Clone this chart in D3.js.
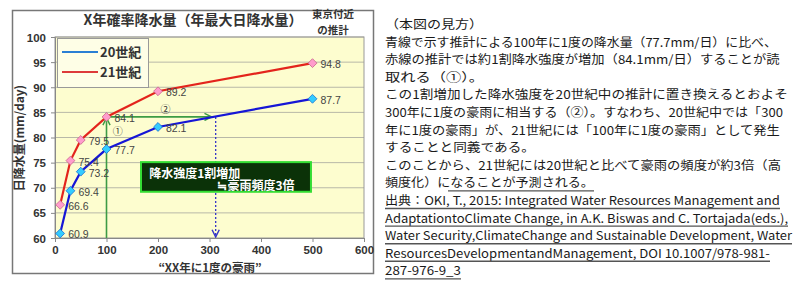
<!DOCTYPE html>
<html>
<head>
<meta charset="utf-8">
<script src="https://cdn.jsdelivr.net/npm/d3@7"></script>
<style>
  html, body { margin: 0; padding: 0; background: #fff; }
  svg { display: block; }
</style>
</head>
<body>
<svg id="chart" width="798" height="287"></svg>
<script>
// --- データ ---
const returnPeriods = [10, 30, 50, 100, 200, 500];
const rain20c = [60.9, 69.4, 73.2, 77.7, 82.1, 87.7];
const rain21c = [66.6, 75.4, 79.5, 84.1, 89.2, 94.8];
const seriesNames = ["20世紀", "21世紀"];
const xTicks = [0, 100, 200, 300, 400, 500, 600];
const yTicks = [60, 65, 70, 75, 80, 85, 90, 95, 100];

const chartTitle = "X年確率降水量（年最大日降水量）";
const chartNote = ["東京付近", "の推計"];
const xLabel = "“XX年に1度の豪雨”";
const yLabel = "日降水量(mm/day)";
const boxLines = ["降水強度1割増加", "≒豪雨頻度3倍"];

const noteLines = [
  "（本図の見方）",
  "青線で示す推計による100年に1度の降水量（77.7mm/日）に比べ、",
  "赤線の推計では約1割降水強度が増加（84.1mm/日）することが読",
  "取れる（①）。",
  "この1割増加した降水強度を20世紀中の推計に置き換えるとおよそ",
  "300年に1度の豪雨に相当する（②）。すなわち、20世紀中では「300",
  "年に1度の豪雨」が、21世紀には「100年に1度の豪雨」として発生",
  "することと同義である。",
  "このことから、21世紀には20世紀と比べて豪雨の頻度が約3倍（高",
  "頻度化）になることが予測される。",
  "出典：OKI, T., 2015: Integrated Water Resources Management and",
  "AdaptationtoClimate Change, in A.K. Biswas and C. Tortajada(eds.),",
  "Water Security,ClimateChange and Sustainable Development, Water",
  "ResourcesDevelopmentandManagement, DOI 10.1007/978-981-",
  "287-976-9_3"
];

// --- レイアウト ---
const noteRight = [483, 777, 780, 484, 788, 783, 780, 535, 781, 594, 780, 788, 792, 770, 461];
const noteX = 385, noteTop = 29, noteStep = 17.6;

const svg = d3.select("#chart");
const jp = "'Noto Sans CJK JP', 'Noto Sans', sans-serif";
const num = "'Liberation Sans', Arial, sans-serif";

const x = d3.scaleLinear().domain([0, 600]).range([55, 364]);
const y = d3.scaleLinear().domain([60, 100]).range([238, 37]);

// 外枠
svg.append("rect")
  .attr("x", 12.5).attr("y", 10.5).attr("width", 361).attr("height", 263)
  .attr("fill", "#fff").attr("stroke", "#777").attr("stroke-width", 1.5);

// プロット領域
svg.append("rect")
  .attr("x", x(0)).attr("y", y(100))
  .attr("width", x(600) - x(0)).attr("height", y(60) - y(100))
  .attr("fill", "#fdfdcf");

svg.append("g").selectAll("line")
  .data(yTicks.filter(d => d > 60))
  .join("line")
  .attr("x1", x(0)).attr("x2", x(600))
  .attr("y1", d => y(d)).attr("y2", d => y(d))
  .attr("stroke", "#b8b8a8").attr("stroke-width", 1);

svg.append("rect")
  .attr("x", x(0)).attr("y", y(100))
  .attr("width", x(600) - x(0)).attr("height", y(60) - y(100))
  .attr("fill", "none").attr("stroke", "#999");

// 軸
const xAxis = svg.append("g")
  .attr("transform", `translate(0,${y(60)})`)
  .call(d3.axisBottom(x).tickValues(xTicks).tickSize(4).tickPadding(4));
const yAxis = svg.append("g")
  .attr("transform", `translate(${x(0)},0)`)
  .call(d3.axisLeft(y).tickValues(yTicks).tickSize(4).tickPadding(5));
[xAxis, yAxis].forEach(a => {
  a.select(".domain").attr("stroke", "#888");
  a.selectAll(".tick line").attr("stroke", "#888");
  a.selectAll("text")
    .attr("font-family", num).attr("font-size", 11.5)
    .attr("font-weight", "bold").attr("fill", "#333");
});
yAxis.selectAll("text").attr("dy", "0.35em");
xAxis.selectAll("text").attr("dy", "0.71em");

// 緑の矢印・青点線
const defs = svg.append("defs");
function chevron(id, color) {
  defs.append("marker")
    .attr("id", id).attr("viewBox", "0 0 10 10")
    .attr("refX", 9).attr("refY", 5)
    .attr("markerWidth", 9).attr("markerHeight", 9)
    .attr("markerUnits", "userSpaceOnUse")
    .attr("orient", "auto")
    .append("path").attr("d", "M1,1 L9,5 L1,9")
    .attr("fill", "none").attr("stroke", color).attr("stroke-width", 1.6);
}
chevron("gArrow", "#3d9b45");
chevron("bArrow", "#3434c8");

const crossX = 312;
svg.append("line")
  .attr("x1", x(100)).attr("x2", x(100)).attr("y1", y(60)).attr("y2", y(84.1) + 1)
  .attr("stroke", "#3d9b45").attr("stroke-width", 1.6).attr("marker-end", "url(#gArrow)");
svg.append("line")
  .attr("x1", x(100)).attr("x2", x(crossX) - 4).attr("y1", y(84.1)).attr("y2", y(84.1))
  .attr("stroke", "#3d9b45").attr("stroke-width", 1.6).attr("marker-end", "url(#gArrow)");
svg.append("line")
  .attr("x1", x(crossX)).attr("x2", x(crossX)).attr("y1", y(84.1)).attr("y2", y(60) - 1)
  .attr("stroke", "#3434c8").attr("stroke-width", 1.3).attr("stroke-dasharray", "2,2")
  .attr("marker-end", "url(#bArrow)");

svg.append("text").attr("x", x(112)).attr("y", y(81.2)).attr("dy", "0.35em")
  .attr("font-family", jp).attr("font-size", 10).attr("fill", "#333").text("①");
svg.append("text").attr("x", x(205)).attr("y", y(85.6)).attr("dy", "0.35em")
  .attr("font-family", jp).attr("font-size", 10).attr("fill", "#333").text("②");

// 系列
const series = [
  { name: seriesNames[0], values: rain20c, line: "#1616d6", fill: "#33ccff", edge: "#1a6fd0", key: "#2a7fd4" },
  { name: seriesNames[1], values: rain21c, line: "#e3241c", fill: "#ff9ccc", edge: "#c8648c", key: "#dd3a3a" }
];
const lineGen = d3.line().x(d => x(d[0])).y(d => y(d[1]));
const diamond = d3.symbol().type(d3.symbolDiamond2).size(50);

series.forEach(s => {
  const pts = returnPeriods.map((p, i) => [p, s.values[i]]);
  svg.append("path").datum(pts).attr("d", lineGen)
    .attr("fill", "none").attr("stroke", s.line).attr("stroke-width", 2.2);
  svg.append("g").selectAll("path").data(pts).join("path")
    .attr("d", diamond)
    .attr("transform", d => `translate(${x(d[0])},${y(d[1])})`)
    .attr("fill", s.fill).attr("stroke", s.edge).attr("stroke-width", 0.8);
  svg.append("g").selectAll("text").data(pts).join("text")
    .attr("x", d => x(d[0]) + 8).attr("y", d => y(d[1]) + 5)
    .attr("font-family", num).attr("font-size", 10.5).attr("fill", "#444")
    .text(d => d[1].toFixed(1));
});

// 注記ボックス
svg.append("rect")
  .attr("x", x(167)).attr("y", y(75.1))
  .attr("width", x(497) - x(167)).attr("height", y(69.2) - y(75.1))
  .attr("fill", "#0b3208").attr("stroke", "#33dd33").attr("stroke-width", 2);
svg.append("text").attr("x", x(183)).attr("y", y(72.8)).attr("dy", "0.35em")
  .attr("font-family", jp).attr("font-size", 12).attr("font-weight", "bold")
  .attr("fill", "#fff").text(boxLines[0]);
svg.append("text").attr("x", x(465)).attr("y", y(70.4)).attr("dy", "0.35em")
  .attr("text-anchor", "end")
  .attr("font-family", jp).attr("font-size", 12).attr("font-weight", "bold")
  .attr("fill", "#fff").text(boxLines[1]);

// 凡例
const legend = svg.append("g");
legend.append("rect")
  .attr("x", 57.5).attr("y", 38.5).attr("width", 91).attr("height", 49)
  .attr("fill", "#fefee6").attr("stroke", "#999");
series.forEach((s, i) => {
  const ly = 52 + i * 20;
  legend.append("line").attr("x1", 62).attr("x2", 98).attr("y1", ly).attr("y2", ly)
    .attr("stroke", s.key).attr("stroke-width", 2);
  legend.append("text").attr("x", 100).attr("y", ly).attr("dy", "0.35em")
    .attr("font-family", jp).attr("font-size", 13).attr("font-weight", "bold")
    .attr("fill", "#333").text(s.name);
});

// タイトル・軸ラベル
svg.append("text").attr("x", 193).attr("y", 20).attr("dy", "0.35em")
  .attr("text-anchor", "middle").attr("font-family", jp).attr("font-size", 14)
  .attr("font-weight", "bold").attr("fill", "#333").text(chartTitle);
chartNote.forEach((t, i) => {
  svg.append("text").attr("x", 333).attr("y", 14.5 + i * 15.5).attr("dy", "0.35em")
    .attr("text-anchor", "middle").attr("font-family", jp).attr("font-size", 10.5)
    .attr("font-weight", "bold").attr("fill", "#333").text(t);
});
svg.append("text").attr("x", 210).attr("y", 268).attr("dy", "0.35em")
  .attr("text-anchor", "middle").attr("font-family", jp).attr("font-size", 11.5)
  .attr("font-weight", "bold").attr("fill", "#333").text(xLabel);
svg.append("text")
  .attr("transform", "translate(20,138) rotate(-90)").attr("dy", "0.35em")
  .attr("text-anchor", "middle").attr("font-family", jp).attr("font-size", 12)
  .attr("font-weight", "bold").attr("fill", "#333").text(yLabel);

// 右側の説明文（横方向に伸縮して元図の行幅に合わせる）
const notes = svg.append("g");
noteLines.forEach((t, i) => {
  const by = noteTop + i * noteStep;
  const txt = notes.append("text")
    .attr("x", 0).attr("y", 0)
    .attr("font-family", jp).attr("font-size", 12.1).attr("fill", "#1a1a1a")
    .text(t);
  const w = txt.node().getComputedTextLength();
  const k = (noteRight[i] - noteX) / w;
  txt.attr("transform", `translate(${noteX},${by}) scale(${k},1)`);
  let ux1 = null;
  if (i >= 10) ux1 = noteX;
  else if (i === 9) ux1 = 448;
  if (ux1 !== null) {
    notes.append("line")
      .attr("x1", ux1).attr("x2", noteRight[i])
      .attr("y1", by + 3.5).attr("y2", by + 3.5)
      .attr("stroke", "#555").attr("stroke-width", 1.4);
  }
});
</script>
</body>
</html>
